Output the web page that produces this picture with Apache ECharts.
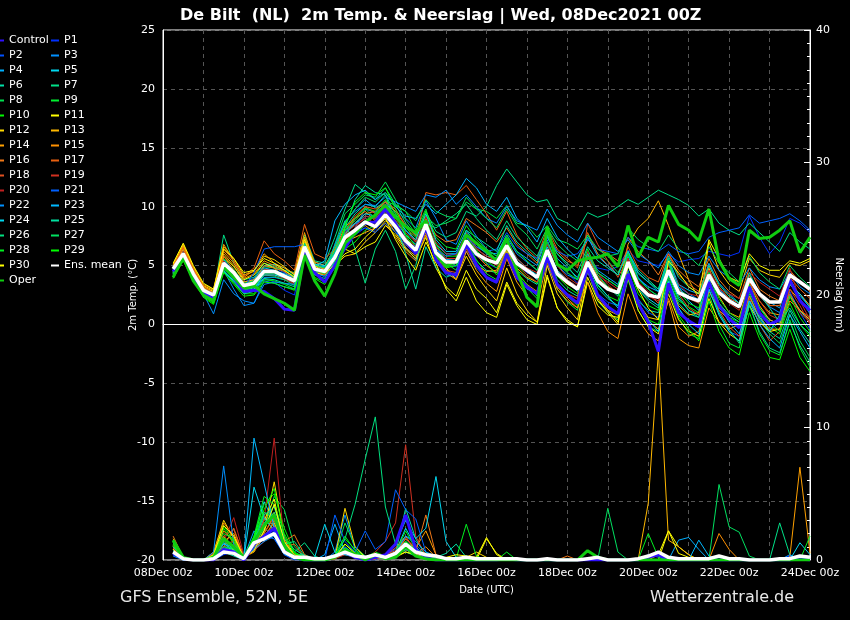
<!DOCTYPE html>
<html>
<head>
<meta charset="utf-8">
<script src="https://cdn.jsdelivr.net/npm/echarts/dist/echarts.min.js"></script>
<style>
html, body { margin: 0; padding: 0; background: #000; }
#chart { width: 850px; height: 620px; }
</style>
</head>
<body>
<div id="chart"></div>
<script>
// time axis: 6-hourly steps, 08Dec 00z .. 24Dec 00z
const days = ['08Dec', '09Dec', '10Dec', '11Dec', '12Dec', '13Dec', '14Dec', '15Dec', '16Dec',
  '17Dec', '18Dec', '19Dec', '20Dec', '21Dec', '22Dec', '23Dec', '24Dec'];
const hours = ['00z', '06z', '12z', '18z'];

const names = ['Control', 'P1', 'P2', 'P3', 'P4', 'P5', 'P6', 'P7', 'P8', 'P9', 'P10',
  'P11', 'P12', 'P13', 'P14', 'P15', 'P16', 'P17', 'P18', 'P19', 'P20',
  'P21', 'P22', 'P23', 'P24', 'P25', 'P26', 'P27', 'P28', 'P29', 'P30', 'Ens. mean', 'Oper'];
const colors = ['#3010ff', '#0030ff', '#0050ff', '#0090ff', '#00b0ff', '#00d8f0', '#00e0a8', '#00e088', '#00e050', '#00f030', '#00f800',
  '#ffff00', '#ffd800', '#ffb800', '#ffa000', '#ff9000', '#f07818', '#e86010', '#e05020', '#d03020', '#c02020',
  '#0060ff', '#0090ff', '#00b8ff', '#00d8f0', '#00e0a0', '#00e080', '#00e060', '#00f020', '#00ff00', '#ffff00', '#ffffff', '#10cc10'];

// 2m temperature (°C)
const tControl = [null, 4.5,5.9,4.2,2.7, 2.2,5.0,4.0,2.8, 2.9,2.8,2.2,1.3, 1.2,6.2,4.4,3.6, 5.0,6.5,7.8,8.6, 8.7,9.8,8.6,7.0, 6.0,8.2,5.5,4.4, 4.2,6.8,5.1,4.0, 3.6,6.0,4.0,3.2, 2.6,5.7,3.4,2.5, 1.8,4.8,2.5,1.5, 0.9,4.3,1.8,0.2, -2.3,3.5,1.0,0.3, -0.2,3.6,1.6,0.5, -0.3,3.2,1.0,0.0, 0.4,3.8,2.0,1.2];
const tP1 = [null, 4.9,6.2,4.5,3.0, 2.4,5.0,4.2,3.0, 3.2,3.9,3.6,2.9, 2.5,6.4,4.6,4.0, 5.4,7.0,7.6,8.2, 8.0,9.0,8.1,6.9, 6.2,8.1,6.0,5.0, 4.9,6.5,5.8,5.2, 4.8,6.0,5.1,4.4, 4.0,6.9,5.2,4.4, 3.5,5.6,4.8,4.6, 4.9,6.3,5.4,5.2, 5.0,6.0,5.3,5.5, 5.6,6.2,6.0,5.8, 6.1,9.2,7.4,6.0, 7.0,9.0,8.6,7.8];
const tP2 = [null, 4.6,5.8,4.2,2.8, 2.6,5.4,4.6,3.6, 3.9,5.0,4.8,4.4, 4.0,6.8,4.9,4.7, 6.0,7.9,8.5,9.0, 8.6,9.5,8.0,6.6, 5.5,8.0,5.4,4.2, 4.0,6.2,4.8,3.9, 3.5,5.8,4.0,3.0, 2.6,5.0,3.2,2.4, 1.8,4.4,2.6,1.9, 1.6,4.6,2.2,1.0, 0.6,3.9,1.4,0.2, -0.3,3.0,1.0,-0.6, -1.0,2.4,0.4,-0.5, 0.2,2.8,1.0,-0.4];
const tP3 = [null, 5.0,6.3,4.6,3.2, 2.0,4.6,3.0,1.6, 1.8,3.7,3.5,3.2, 3.0,6.0,4.3,4.1, 5.5,7.2,8.2,9.8, 9.5,10.2,9.6,9.0, 8.2,10.5,9.0,7.2, 6.8,8.8,7.5,6.4, 5.8,7.4,6.0,5.3, 4.6,7.2,5.0,4.2, 3.8,6.0,4.4,3.8, 3.2,6.2,4.0,3.0, 2.4,5.4,3.2,2.6, 2.1,4.6,3.0,2.2, 1.6,3.8,2.4,1.5, 1.0,3.5,2.2,0.9];
const tP4 = [null, 4.4,5.8,4.0,2.6, 2.3,4.8,3.9,2.8, 2.9,4.0,4.0,3.8, 3.6,6.9,5.0,4.9, 6.6,8.6,9.8,10.6, 9.9,10.4,9.2,8.0, 7.0,8.8,6.4,5.5, 5.6,7.8,6.6,6.1, 6.0,7.6,6.2,5.6, 5.0,7.5,5.6,4.8, 4.0,6.0,4.6,4.0, 3.4,5.8,3.9,3.2, 2.8,5.6,3.4,2.9, 2.6,5.2,3.5,2.6, 1.8,4.2,2.7,1.9, 1.4,3.9,2.4,1.5];
const tP5 = [null, 4.8,6.1,4.4,3.1, 2.7,5.5,4.5,3.4, 3.8,5.0,5.1,4.8, 4.2,7.0,5.3,5.0, 6.2,8.0,8.6,9.2, 9.0,9.8,8.8,7.6, 6.8,8.6,6.8,6.0, 6.0,7.6,6.4,5.8, 5.6,7.0,5.6,4.8, 4.2,6.4,4.6,3.8, 3.2,5.4,3.8,3.0, 2.6,5.0,3.0,2.2, 1.6,4.2,2.2,1.2, 0.8,3.6,1.8,0.8, 0.2,3.0,1.4,0.4, 0.0,2.6,1.2,0.2];
const tP6 = [null, 4.3,5.6,4.0,2.5, 2.1,4.9,4.1,3.2, 3.3,4.6,4.5,4.2, 3.9,6.5,4.5,4.4, 5.9,8.2,9.4,10.2, 10.0,11.0,9.4,7.4, 6.0,8.6,6.2,5.4, 5.0,6.8,5.4,4.6, 4.4,6.2,4.6,3.9, 3.4,5.8,3.8,2.9, 2.4,5.0,3.1,2.2, 1.6,4.4,2.0,1.2, 1.0,3.7,1.8,0.9, 0.6,3.3,1.4,0.5, 0.0,2.8,0.8,-0.6, -1.2,1.2,-0.4,-1.6];
const tP7 = [null, 4.6,6.0,4.4,3.0, 2.6,7.6,5.2,3.8, 4.0,5.2,4.9,4.6, 4.4,7.6,5.4,5.2, 7.4,9.8,11.9,11.2, 10.6,11.6,10.2,8.6, 7.6,9.6,7.9,7.4, 7.8,9.6,9.2,10.0, 11.8,13.2,12.1,11.0, 10.4,10.6,9.0,8.6, 8.0,9.5,9.1,9.4, 10.0,10.6,10.2,10.8, 11.4,11.0,10.6,10.1, 9.2,9.8,8.6,8.0, 7.6,8.6,7.8,7.0, 6.2,7.8,7.0,6.4];
const tP8 = [null, 4.2,5.7,4.1,2.6, 2.0,4.8,3.8,2.7, 3.0,4.2,4.1,3.8, 3.3,6.2,4.4,4.3, 6.8,9.4,10.2,11.0, 10.8,12.1,10.6,8.9, 7.7,9.2,8.4,8.6, 9.0,10.4,9.8,9.6, 9.0,10.1,8.6,8.4, 7.4,8.4,7.2,6.9, 6.4,7.6,6.0,5.4, 4.4,6.0,4.3,3.6, 3.0,5.6,3.0,2.4, 1.8,4.4,1.8,0.6, -0.2,2.6,0.4,-0.8, -1.6,0.9,-1.4,-2.8];
const tP9 = [null, 4.5,5.9,4.3,2.8, 2.4,5.6,4.7,3.5, 3.7,4.9,4.8,4.6, 4.1,7.0,5.0,4.8, 6.3,8.0,8.8,9.8, 9.0,10.5,10.1,9.6, 8.0,9.8,6.9,5.2, 4.6,7.0,5.5,4.3, 3.8,6.4,4.2,3.1, 2.2,5.8,3.0,1.9, 1.2,4.6,2.0,1.0, 0.4,3.8,1.2,-0.2, -0.6,3.0,0.6,-0.8, -1.2,2.6,0.0,-1.6, -2.0,1.8,-0.8,-2.2, -2.6,0.4,-2.0,-3.6];
const tP10 = [null, 4.0,5.5,3.8,2.4, 1.8,4.6,3.5,2.6, 2.6,3.8,3.7,3.4, 3.0,6.0,4.0,3.6, 4.8,6.4,7.0,8.0, 8.4,9.6,8.8,7.8, 6.6,8.9,6.6,5.8, 5.8,7.4,6.3,5.4, 4.8,6.6,5.0,4.2, 3.5,6.0,4.1,3.2, 2.6,5.4,3.3,2.4, 2.0,5.0,2.6,1.6, 1.2,4.0,2.0,1.5, 1.0,3.9,1.8,0.6, 0.2,3.0,1.0,-0.2, -0.8,1.8,0.0,-1.0];
const tP11 = [null, 4.9,6.5,4.6,3.2, 2.8,5.8,4.9,3.8, 4.2,5.2,4.8,4.0, 3.6,6.3,4.4,4.2, 5.2,6.4,6.0,6.6, 7.0,8.4,7.6,6.4, 5.6,7.4,4.8,3.2, 2.4,4.6,3.0,2.2, 1.0,3.6,1.8,0.8, 0.2,4.2,1.4,0.4, -0.2,3.6,1.6,0.8, 0.6,4.0,1.2,-0.2, -0.8,2.6,0.4,-0.6, -1.0,2.2,0.2,-0.8, -1.4,1.6,0.2,-0.6, -0.4,2.4,1.2,0.4];
const tP12 = [null, 5.1,6.7,4.8,3.3, 2.9,6.6,5.6,4.2, 4.5,5.8,5.5,4.9, 4.2,7.4,5.2,4.6, 5.0,5.8,6.0,7.0, 7.8,8.8,8.2,6.8, 6.0,8.0,6.2,4.8, 3.8,5.8,4.2,3.0, 2.0,4.8,2.6,1.2, 0.2,5.0,2.6,1.4, 0.4,4.6,2.2,1.0, 0.0,4.2,1.8,0.6, 0.4,3.4,1.6,0.8, 1.0,7.0,4.6,3.4, 2.8,5.6,4.6,4.2, 4.0,5.2,5.0,5.4];
const tP13 = [null, 4.7,6.4,4.5,3.1, 2.5,6.0,5.0,3.6, 3.8,4.6,4.5,4.2, 3.8,6.6,4.8,4.3, 5.6,7.0,7.4,7.8, 8.2,9.0,7.8,6.5, 5.8,7.8,5.6,4.5, 4.2,6.6,5.0,4.5, 4.6,6.4,4.8,4.0, 3.6,6.2,4.2,3.4, 3.0,5.8,4.0,3.2, 2.8,6.8,8.2,9.0, 10.5,8.4,6.0,3.8, 2.2,4.8,2.4,1.0, 0.6,3.6,1.6,0.4, 0.0,3.0,2.0,1.2];
const tP14 = [null, 5.0,6.8,4.9,3.4, 3.0,6.8,5.4,4.0, 4.6,6.0,5.2,4.8, 4.3,7.8,5.0,4.7, 5.8,7.2,7.8,8.4, 7.8,8.6,7.4,6.2, 5.4,7.6,5.6,4.4, 3.8,6.2,4.6,3.5, 2.8,5.6,3.6,2.4, 1.6,5.4,3.0,2.0, 1.4,4.8,2.4,1.2, 0.8,4.0,1.6,0.3, -0.4,2.0,-1.2,-1.8, -2.0,1.4,0.2,-0.4, 0.0,3.6,2.0,1.0, 0.8,3.4,2.6,1.6];
const tP15 = [null, 4.8,6.6,4.7,3.3, 2.7,6.2,5.2,3.9, 4.3,5.4,5.0,4.6, 4.0,7.2,5.3,5.0, 6.4,8.3,9.0,9.6, 8.8,9.4,8.2,7.0, 6.4,8.4,6.2,5.4, 5.4,7.0,5.9,5.0, 4.4,6.2,4.4,3.4, 2.8,5.4,3.2,2.2, 1.4,3.6,1.0,-0.6, -1.2,2.6,0.4,-0.8, -1.4,2.2,-0.2,-1.0, -0.6,2.8,1.2,0.4, -0.2,2.4,0.6,-0.4, -0.4,2.0,1.2,0.6];
const tP16 = [null, 4.5,6.2,4.3,2.9, 2.2,5.8,4.6,3.4, 3.6,5.0,4.8,4.5, 3.8,7.0,4.8,4.6, 5.8,7.6,8.6,9.4, 9.6,10.4,9.6,8.4, 7.5,9.0,7.6,7.0, 7.2,9.0,8.4,7.8, 7.0,8.2,6.8,6.0, 5.2,7.8,6.2,5.4, 5.0,7.2,6.4,6.0, 5.4,7.4,6.2,5.4, 4.2,6.0,4.6,3.8, 3.2,5.6,3.8,2.8, 2.2,4.8,3.0,2.4, 2.0,4.6,3.6,2.8];
const tP17 = [null, 4.9,6.5,4.7,3.2, 2.6,6.4,5.4,4.1, 4.8,7.1,6.0,5.4, 4.6,8.5,6.0,5.6, 6.4,8.0,9.2,10.0, 9.8,10.4,9.8,8.4, 7.0,11.2,11.0,11.2, 11.0,11.8,10.6,9.4, 8.0,9.6,7.6,6.4, 5.6,8.2,6.4,5.6, 4.8,7.8,6.0,5.0, 4.2,6.6,4.8,4.0, 3.6,6.0,4.2,3.4, 2.8,5.0,3.2,2.2, 1.8,4.2,2.4,1.6, 1.6,4.0,3.0,2.2];
const tP18 = [null, 4.6,6.1,4.4,3.0, 2.3,5.2,4.3,3.2, 3.4,4.4,4.4,4.0, 3.5,6.7,4.6,4.2, 5.4,7.6,9.0,10.0, 9.4,10.2,8.8,7.2, 6.2,8.2,5.8,4.6, 4.4,6.4,5.0,4.0, 3.6,5.6,4.0,3.2, 2.6,5.2,3.4,2.6, 2.2,8.6,6.8,5.4, 4.0,5.6,3.6,2.6, 1.8,4.4,2.6,1.4, 0.8,3.4,1.2,-0.2, -1.0,2.2,0.0,-1.4, -0.6,2.6,1.0,0.2];
const tP19 = [null, 4.4,6.0,4.2,2.8, 2.5,5.1,4.1,3.0, 3.2,4.2,4.2,3.9, 3.4,6.6,4.7,4.4, 5.6,7.8,8.4,9.0, 8.6,9.6,8.4,7.4, 6.6,8.8,6.6,5.6, 5.6,7.6,6.4,5.8, 5.4,7.2,5.6,4.8, 4.4,6.8,5.0,4.0, 3.4,5.8,4.2,3.6, 3.0,5.2,3.4,2.4, 2.0,4.6,3.0,2.2, 1.8,4.0,2.6,1.8, 1.2,3.6,2.0,0.8, 0.4,3.0,1.6,0.0];
const tP20 = [null, 4.8,6.2,4.5,3.0, 2.4,5.4,4.4,3.3, 3.5,4.7,4.6,4.1, 3.7,6.8,4.9,4.5, 5.7,7.4,8.2,9.2, 9.0,10.0,9.0,7.8, 7.0,9.2,7.0,6.0, 5.9,7.8,6.6,5.6, 5.0,6.8,5.2,4.2, 3.6,6.4,4.6,3.8, 3.2,6.2,4.4,3.4, 2.6,5.6,3.6,2.8, 2.2,5.0,3.4,2.6, 2.4,4.6,3.0,2.6, 2.2,4.4,3.6,3.0, 2.4,4.8,2.0,0.4];
const tP21 = [null, 4.7,6.0,4.4,3.0, 2.4,5.0,4.2,3.1, 4.4,6.4,6.6,6.6, 6.6,6.8,4.8,4.4, 5.2,6.8,7.8,8.2, 7.8,8.6,7.8,7.0, 6.6,8.4,6.4,5.8, 6.0,7.4,6.6,6.2, 6.4,7.8,6.6,6.0, 5.6,7.6,6.2,5.8, 6.0,7.2,6.4,6.2, 6.0,7.4,6.6,6.4, 6.2,6.8,6.2,6.0, 6.2,7.4,7.8,8.0, 8.2,9.3,8.6,8.8, 9.0,9.4,8.8,8.0];
const tP22 = [null, 4.3,5.7,4.0,2.6, 0.9,3.8,2.6,2.0, 1.8,3.4,3.6,3.5, 3.4,6.4,4.6,4.4, 6.8,8.8,9.6,10.2, 10.1,10.8,10.4,10.0, 9.6,11.0,10.8,11.4, 10.2,11.0,10.0,9.0, 8.6,10.0,8.8,8.4, 8.0,9.8,8.4,7.6, 7.0,8.6,7.4,6.8, 6.2,7.2,6.0,5.4, 4.8,6.2,5.0,4.4, 4.2,5.8,4.6,4.0, 3.4,4.8,3.8,3.2, 3.0,4.4,3.2,2.6];
const tP23 = [null, 4.6,6.1,4.3,2.9, 2.5,5.3,4.3,3.2, 3.6,4.8,4.6,4.3, 4.0,6.6,4.9,5.4, 8.8,10.2,11.0,11.4, 10.6,11.2,10.0,9.2, 9.0,10.2,9.4,10.2, 11.0,12.4,11.6,10.2, 9.6,10.8,9.0,8.2, 7.0,9.0,7.4,6.4, 5.6,7.4,5.8,5.0, 4.2,6.2,4.4,3.6, 2.8,5.2,3.2,2.0, 1.2,3.8,1.6,0.2, -0.8,2.0,0.0,-1.2, -2.0,0.8,-0.6,-2.0];
const tP24 = [null, 4.4,5.9,4.1,2.7, 2.0,4.6,3.7,2.7, 3.0,4.2,4.2,4.0, 3.7,6.8,5.1,5.0, 6.0,7.7,8.6,9.4, 9.2,10.0,9.2,8.0, 7.2,9.4,7.2,6.2, 6.2,8.0,6.8,6.0, 5.6,7.2,5.4,4.6, 3.8,6.6,4.6,3.6, 2.8,5.4,3.4,2.4, 1.4,4.2,1.8,0.4, -0.6,3.6,1.4,0.0, -0.8,3.0,0.8,-0.6, -1.4,2.0,0.6,-0.6, 0.8,3.4,2.6,1.4];
const tP25 = [null, 4.1,5.5,3.9,2.5, 1.9,4.5,3.6,2.6, 2.8,3.9,3.8,3.5, 3.2,6.3,4.2,3.9, 5.4,8.2,10.6,11.8, 11.2,11.0,8.6,6.0, 3.0,6.6,4.8,4.0, 4.4,8.0,7.4,6.8, 6.2,8.4,7.0,6.2, 5.4,7.4,6.0,5.2, 4.4,6.6,5.4,4.8, 4.2,6.2,4.6,3.8, 3.0,5.8,4.0,3.2, 2.6,5.0,3.4,2.4, 1.8,4.4,2.6,1.4, 0.2,1.4,0.0,-0.8];
const tP26 = [null, 4.2,5.6,4.0,2.6, 2.2,5.0,4.0,2.9, 3.1,4.3,4.3,4.0, 3.6,6.4,4.8,4.6, 6.2,8.8,6.4,3.5, 6.4,8.0,6.2,3.0, 5.0,8.6,8.2,8.8, 9.4,10.2,9.0,8.0, 7.2,8.8,7.4,6.6, 5.8,7.6,6.0,5.0, 3.8,6.0,4.2,3.2, 2.4,5.0,3.0,2.0, 1.4,4.6,2.4,1.2, 0.6,3.4,1.0,-0.4, -1.6,1.6,-0.6,-2.0, -2.4,0.2,-1.8,-3.2];
const tP27 = [null, 4.5,6.0,4.3,2.8, 2.3,5.2,4.2,3.1, 3.4,4.6,4.5,4.2, 3.8,6.9,5.0,4.8, 6.6,8.6,9.8,10.8, 10.4,11.2,10.2,9.6, 8.8,10.6,9.6,9.2, 9.0,10.8,9.8,9.0, 8.2,9.8,8.4,7.6, 6.4,8.2,6.8,6.0, 5.4,7.6,6.4,5.8, 6.0,8.2,7.2,6.6, 6.2,7.6,6.4,5.8, 5.0,6.6,5.2,4.4, 3.6,5.8,4.4,3.6, 3.0,5.0,4.0,3.2];
const tP28 = [null, 4.3,5.8,4.1,2.7, 2.1,5.0,4.0,2.9, 3.2,4.4,4.4,4.1, 3.6,6.5,4.6,4.3, 5.8,8.0,9.0,9.9, 9.6,10.6,9.4,8.2, 7.4,9.6,7.4,6.6, 6.4,8.4,7.2,6.4, 5.8,7.6,6.2,5.4, 4.6,7.0,5.2,4.4, 3.8,6.4,4.4,3.8, 3.2,6.0,3.8,3.0, 2.4,5.2,2.8,1.8, 1.4,4.4,2.2,1.0, 0.4,3.4,1.4,0.2, -0.6,2.4,0.6,-0.6];
const tP29 = [null, 3.9,5.4,3.7,2.3, 1.7,4.4,3.4,2.4, 2.5,3.6,3.5,3.2, 2.9,5.8,3.9,3.4, 5.0,8.4,10.4,11.2, 11.0,11.6,9.8,7.6, 6.2,8.2,5.8,4.8, 5.0,7.2,6.0,5.2, 4.2,6.0,4.4,3.4, 2.4,5.4,3.4,2.4, 1.6,4.6,2.4,1.4, 0.8,4.4,1.6,0.4, 0.0,3.4,0.8,-0.4, -1.4,2.0,-0.6,-2.0, -2.6,1.0,-1.2,-2.8, -3.0,-0.4,-2.8,-4.0];
const tP30 = [null, 5.2,6.9,5.0,3.5, 3.0,6.4,5.6,4.4, 4.6,5.6,5.2,4.6, 4.0,7.2,5.0,4.4, 5.0,6.0,6.4,7.4, 8.2,9.0,7.2,5.8, 4.6,7.0,5.2,3.0, 2.0,4.0,2.0,1.0, 0.6,3.4,1.6,0.4, 0.0,4.0,1.4,0.2, -0.2,4.0,2.0,1.2, 0.2,5.0,3.0,1.4, 0.4,5.4,4.4,3.2, 2.6,7.2,5.6,4.0, 3.6,6.0,5.0,4.6, 4.6,5.4,5.2,5.6];
const tMean = [null, 4.7,6.0,4.3,2.9, 2.5,5.2,4.4,3.3, 3.5,4.5,4.5,4.1, 3.7,6.6,4.7,4.5, 5.7,7.4,8.0,8.7, 8.3,9.3,8.3,7.1, 6.3,8.5,6.1,5.3, 5.3,7.1,6.0,5.5, 5.2,6.7,5.2,4.6, 4.0,6.3,4.3,3.6, 3.0,5.3,3.7,3.0, 2.7,5.3,3.3,2.5, 2.3,4.6,2.7,2.3, 2.0,4.2,2.7,2.0, 1.5,3.9,2.6,1.9, 1.9,4.2,3.6,3.0];
const tOper = [null, 4.0,5.7,3.7,2.5, 2.0,4.9,4.0,3.1, 3.3,2.6,2.2,1.8, 1.2,5.9,3.7,2.4, 4.3,6.9,7.7,8.7, 9.3,10.1,9.1,8.3, 7.8,8.8,6.0,4.9, 5.4,7.6,6.9,6.2, 5.4,7.3,4.6,2.3, 1.5,8.3,5.1,4.6, 5.4,5.6,5.7,6.0, 4.9,8.4,5.7,7.4, 7.0,10.1,8.5,8.0, 7.1,9.8,5.4,3.9, 3.3,8.0,7.3,7.4, 8.0,8.8,6.1,7.4];

// precipitation (mm per 6h)
const rControl = [null, 0.5,0.1,0,0, 0,0.8,0.6,0, 1.2,1.8,2.4,0.8, 0.2,0,0,0, 0.3,0.6,0.2,0, 0.2,0.4,1.2,3.4, 0.8,0.2,0,0, 0,0,0,0, 0,0.1,0,0, 0,0,0,0, 0,0,0,0, 0,0,0,0.2, 0.4,0,0,0, 0,0,0,0, 0,0,0,0, 0,0,0.1,0];
const rP1 = [null, 0.4,0,0,0, 0,0.4,0.6,0, 0.8,1.6,2.2,0.6, 0.1,0,0,0, 0.4,0.8,0.2,0, 0.1,0.3,0.6,1.4, 0.6,0.2,0,0, 0,0,0,0, 0,0,0,0, 0,0,0,0, 0,0,0,0, 0,0,0,0.4, 0.2,0,0,0, 0,0,0,0, 0,0,0,0, 0,0.3,0,0];
const rP2 = [null, 0.6,0.1,0,0, 0.2,0.9,0.4,0, 1.0,2.0,1.6,0.4, 0,0,0,0, 0.2,0.5,0.2,0, 0,0.4,0.8,1.8, 1.2,0.3,0,0, 0,0,0,0, 0,0,0,0, 0,0,0,0, 0,0,0,0, 0,0,0,0, 0,0,0.2,0, 0,0,0,0, 0,0,0,0, 0,0,0,0];
const rP3 = [null, 0.3,0,0,0, 0.5,1.6,0.8,0, 1.4,2.4,1.8,0.6, 0.2,0,0,0, 0.6,3.4,0.8,0.2, 0.3,0.2,0.4,1.0, 0.4,0.2,0.1,0, 0,0.1,0,0, 0,0,0,0, 0,0,0,0, 0,0,0.2,0, 0,0,0,0, 0,0,0,0, 0,0,0,0, 0,0,0,0, 0,0,0,0];
const rP4 = [null, 0.5,0,0,0, 0.3,1.2,0.8,0.2, 2.2,1.4,2.6,0.8, 0.3,0.1,0,0.4, 2.7,0.6,0.3,0, 0.2,0.3,0.6,1.6, 0.8,0.4,0.1,0, 0,0,0,0, 0,0,0,0, 0,0,0,0, 0,0,0,0, 0,0,0,0, 0,0,1.5,1.7, 0.8,0,0,0, 0,0,0,0, 0,0,0,0];
const rP5 = [null, 0.8,0.1,0,0, 0.1,0.7,0.5,0.1, 1.6,4.4,2.8,0.9, 0.4,0.2,0,0, 0.2,0.4,0.2,0, 0.1,0.2,0.6,2.4, 1.0,0.2,0,0, 0,0,0,0, 0,0,0,0, 0,0,0,0, 0,0,0,0, 0,0,0,0, 0,0,0,0, 0,0,0,0, 0,0,0,0, 0,0,1.3,0.4];
const rP6 = [null, 1.0,0.2,0,0, 0.2,0.6,0.3,0, 1.2,3.2,2.6,1.0, 0.4,0.4,0.1,0, 0.1,0.6,0.2,0.1, 0.4,0.3,0.5,3.9, 1.6,0.3,0.1,0, 0,0,0,0, 0,0,0,0, 0,0,0,0, 0,0,0,0, 0,0,0,0, 0,0,0,0, 0,0,0,0, 0,0,0,0, 0,0,0,0];
const rP7 = [null, 1.4,0.2,0,0, 0,0.5,0.6,0.1, 0.9,2.2,4.2,1.2, 0.6,1.3,0.3,0, 0.4,0.8,0.3,0.1, 0.3,0.1,0.3,0.8, 0.5,0.4,0.2,0.1, 0.1,0.3,0,0, 0,0,0,0, 0,0,0,0, 0,0,0,0, 0,0,0,0, 0,0,0,0, 0,0,0,0, 0,0,0,0, 2.8,0.4,0,0];
const rP8 = [null, 0.7,0,0,0, 0.4,1.0,0.8,0, 1.0,2.4,4.8,3.8, 1.0,0.2,0,0, 0.3,2.8,1.0,0.3, 0.2,0.3,0.4,1.2, 0.6,0.3,0.1,0, 0,0,0,0, 0,0,0,0, 0,0,0,0, 0,0,0,0, 0,0,0,0, 0,0,0,0, 0,0,0,0, 0,0,0,0, 0,0,0,0];
const rP9 = [null, 0.9,0.1,0,0, 0.2,0.8,0.9,0.2, 1.6,3.6,3.0,1.4, 0.4,0.2,0,0, 0.2,1.2,0.6,0.1, 0.3,0.1,0.4,0.9, 0.7,0.4,0.2,0, 0,0,0,0, 0,0,0,0, 0,0,0,0, 0,0,0,0, 0,0,0,0, 0,0,0,0, 0,0,0,0, 0,0,0,0, 0,0,0,0];
const rP10 = [null, 1.2,0.2,0,0, 0.1,2.4,1.2,0.1, 1.8,4.2,5.0,2.4, 0.6,0.2,0,0, 0.3,1.6,0.8,0.2, 0.6,0.3,0.3,1.4, 0.8,0.5,0.2,0, 0,0,0,0, 0,0,0,0, 0,0,0,0, 0,0,0,0, 0,0,0,0, 0,0,0,0, 0,0,0,0, 0,0,0,0, 0,0,0,0];
const rP11 = [null, 0.9,0.1,0,0, 0.3,1.8,0.7,0, 1.0,3.0,4.6,1.0, 0.2,0,0,0, 0.2,0.9,0.4,0, 0.1,0.2,0.3,0.6, 0.4,0.2,0,0, 0,0,0,1.6, 0.5,0,0,0, 0,0,0,0, 0,0,0,0, 0,0,0,0, 0,2.2,1.0,0.4, 0,0,0,0, 0,0,0,0, 0,0,0,0];
const rP12 = [null, 0.8,0,0,0, 0.6,3.0,1.6,0.2, 0.8,2.2,5.9,1.6, 0.4,0.1,0,0, 0.2,3.9,1.0,0.2, 0.2,0.1,0.3,0.8, 0.3,0.2,0.1,0, 0.1,0.2,0.6,0.2, 0,0,0,0, 0,0,0,0, 0,0,0,0, 0,0,0,0, 0,0,0,0, 0,0,0,0, 0,0,0,0, 0,0,0,0];
const rP13 = [null, 1.0,0.1,0,0, 0.4,1.4,2.0,0.2, 0.6,1.8,2.8,1.2, 0.2,0,0,0, 0.1,0.6,0.2,0, 0.2,0.1,0.4,0.9, 0.6,0.3,0,0, 0,0,0,0, 0,0,0,0, 0,0,0,0, 0,0,0,0, 0,0,0,4.3, 15.7,1.5,1.0,0.4, 0,0,0,0, 0,0,0,0, 0,0,0,0];
const rP14 = [null, 1.6,0.2,0,0, 0.4,2.2,1.4,0.1, 0.9,2.6,3.6,1.4, 0.3,0,0,0, 0.2,0.8,0.4,0, 0.2,0.2,0.5,1.6, 0.9,2.2,0.4,0, 0,0,0,0, 0,0,0,0, 0,0,0,0, 0,0,0,0, 0,0,0,0, 0,0,0,0, 0,0,0,0, 0,0,0,0, 0,0.2,7.0,0.5];
const rP15 = [null, 1.3,0.1,0,0, 0.5,2.8,1.8,0.2, 1.2,2.0,3.4,1.2, 0.4,0.2,0,0, 0.1,0.5,0.2,0, 0.1,0.3,0.6,1.2, 0.5,1.0,0.2,0, 0,0,0,0, 0,0,0,0, 0,0,0,0, 0,0,0,0, 0,0,0,0, 0,0,0,0, 0,0,2.0,0.8, 0,0,0,0, 0,0,0,0];
const rP16 = [null, 1.8,0.2,0,0, 0.3,1.0,2.4,0.3, 1.0,1.6,3.0,1.4, 1.9,0.4,0,0, 0.2,0.7,0.3,0, 0.4,0.4,0.9,1.8, 0.6,3.4,0.4,0, 0,0,0,0, 0,0,0,0, 0,0,0,0.3, 0,0,0,0, 0,0,0,0, 0,0,0,0, 0,0,0,0, 0,0,0,0, 0,0,0,0];
const rP17 = [null, 1.1,0.1,0,0, 0.2,1.2,1.4,0.1, 0.8,2.0,3.2,1.0, 1.2,0.2,0,0, 0.3,0.6,0.2,0, 0.1,0.2,0.3,0.9, 0.4,0.2,0,0, 0,0,0,0, 0,0,0,0, 0,0,0,0, 0,0,0,0, 0,0,0,0, 0,0,0,0, 0,0,0,0, 0,0,0,0, 0,0,0,0];
const rP18 = [null, 1.5,0.2,0,0, 0.4,1.8,2.3,0.2, 0.9,1.8,2.6,0.8, 0.2,0,0,0, 0.2,0.5,0.3,0, 0.2,0.4,0.7,1.6, 0.9,0.3,0,0, 0,0,0,0, 0,0,0,0, 0,0,0,0, 0,0,0,0, 0,0,0,0, 0,0,0,0, 0,0,0,0, 0,0,0,0, 0,0,0,0];
const rP19 = [null, 0.9,0.1,0,0, 0.3,1.0,1.2,0.1, 0.7,1.4,2.0,0.6, 0.2,0,0,0, 0.1,0.4,0.3,0, 0.6,1.4,2.8,8.7, 1.8,0.3,0,0, 0,0,0,0, 0,0,0,0, 0,0,0,0, 0,0,0,0, 0,0,0,0, 0,0,0,0, 0,0,0,0, 0,0,0,0, 0,0,0,0];
const rP20 = [null, 1.2,0.1,0,0, 0.5,1.4,3.2,0.4, 1.2,3.0,9.2,1.2, 0.3,0,0,0, 0.2,0.5,0.2,0, 0.1,0.3,0.4,1.0, 0.5,0.2,0,0, 0,0,0,0, 0,0,0,0, 0,0,0,0, 0,0,0,0, 0,0,0,0, 0,0,0,0, 0,0,0,0, 0,0,0,0, 0,0,0,0];
const rP21 = [null, 0.6,0,0,0, 0.2,0.8,0.6,0, 0.9,1.8,1.6,0.5, 0.2,0.1,0,0, 3.4,1.4,0.6,2.2, 0.8,1.4,5.3,3.8, 3.1,0.6,0.2,0, 0,0.1,0,0, 0,0,0,0, 0,0,0,0, 0,0,0,0, 0,0,0,0, 0,0,0,0, 0,0,0,0, 0,0,0,0, 0,0,0,0];
const rP22 = [null, 0.4,0,0,0, 0.6,7.1,1.2,0.2, 0.8,1.4,1.8,0.4, 0.2,0,0,0, 0.2,0.5,0.2,0, 0.2,0.1,0.4,0.8, 0.4,0.2,0,0, 0,0,0,0, 0,0,0,0, 0,0,0,0, 0,0,0,0, 0,0,0,0, 0,0,0,0, 0,0,0,0, 0,0,0,0, 0,0.4,0,0];
const rP23 = [null, 0.7,0.1,0,0, 0.2,1.2,1.0,0.3, 9.2,5.8,2.4,0.8, 0.3,0.1,0,0, 0.4,1.0,0.4,0.2, 0.3,0.2,0.6,1.8, 1.4,0.6,0.3,0, 0,0,0,0, 0,0,0,0, 0,0,0,0, 0,0,0,0, 0,0,0,0, 0,0,0,0, 1.5,0.3,0,0, 0,0,0,0, 0,0,0,0];
const rP24 = [null, 0.5,0,0,0, 0.3,1.3,0.6,0.1, 5.5,3.2,2.2,0.7, 0.2,0.1,0.2,2.7, 0.6,0.4,0.3,0, 0.2,0.3,1.2,3.0, 1.6,2.4,6.3,1.4, 0.2,0,0,0, 0,0,0,0, 0,0,0,0, 0,0,0,0, 0,0,0,0, 0,0,0,0, 0,0,0,0, 0,0,0,0, 0,0,0,0];
const rP25 = [null, 1.0,0.1,0,0, 0.2,0.9,0.7,0.1, 1.4,3.4,4.0,1.6, 0.8,0.3,0.1,0, 0.3,0.7,0.3,0.1, 0.3,0.2,0.5,1.0, 0.6,0.3,0.2,0.5, 1.2,0.2,0,0, 0,0,0,0, 0,0,0,0, 0,0,0,0, 0,0,0,0, 0,0,0,0, 0,0,0,0, 0,0,0,0, 0,0,0,0];
const rP26 = [null, 1.3,0.2,0,0, 0.3,1.4,0.8,0.1, 1.0,2.8,3.6,1.2, 1.4,0.3,0,0, 0.2,1.6,4.2,7.6, 10.8,4.0,1.2,0.6, 0.3,0.2,0,0, 0,0,0,0, 0,0,0,0, 0,0,0,0, 0,0,0,0, 0,0,0,0, 0,0,0,0, 0,0,0,0, 0,0,0,0, 0,0,0,0];
const rP27 = [null, 1.4,0.1,0,0, 0.2,1.0,0.9,0.2, 1.2,3.6,3.2,1.2, 0.3,0.1,0,0, 0.2,0.6,0.3,0, 0.3,0.2,0.6,1.2, 0.9,0.4,0.2,0, 0,0,0,0, 0,0,0,0, 0,0,0,0, 0,0,0,3.9, 0.6,0,0,0, 0,0,0,0, 0,0,5.7,2.5, 2.1,0.3,0,0, 0,0,0,0];
const rP28 = [null, 1.1,0.1,0,0, 0.4,2.0,1.6,0.2, 1.8,4.8,4.2,2.0, 0.5,0.2,0,0, 0.4,1.8,0.7,0.1, 0.4,0.3,0.5,2.2, 0.8,0.4,0.1,0, 0.1,2.7,0.3,0, 0,0.6,0,0, 0,0,0,0, 0,0,0,0, 0,0,0,2.0, 0.2,0,0,0, 0,0,0,0, 0,0,0,0, 0,0,0,1.8];
const rP29 = [null, 1.2,0.2,0,0, 0.3,2.6,1.4,0.1, 1.6,3.8,5.4,1.8, 0.5,0.2,0,0, 0.3,1.2,0.5,0.1, 0.3,0.2,0.4,1.4, 0.7,0.3,0.1,0, 0,0,0,0, 0,0,0,0, 0,0,0,0, 0,0,0,0, 0,0,0,0, 0,0,0,0, 0,0,0,0, 0,0,0,0, 0,0,0,0];
const rP30 = [null, 0.8,0.1,0,0, 0.4,2.6,1.8,0.2, 0.7,2.2,4.2,1.4, 0.3,0.1,0,0, 0.2,1.2,0.5,0, 0.2,0.3,0.2,0.6, 0.4,0.2,0.1,0.2, 0.4,0.3,0.2,1.7, 0.4,0,0,0, 0,0,0,0, 0,0,0,0, 0,0,0,0, 0.4,2.2,0.5,0.2, 0,0,0,0, 0,0,0,0, 0,0,0,0];
const rMean = [null, 0.6,0.1,0,0, 0.1,0.6,0.5,0.1, 1.3,1.6,2.0,0.6, 0.2,0.2,0.1,0.1, 0.3,0.6,0.3,0.2, 0.4,0.2,0.5,1.2, 0.6,0.4,0.3,0.1, 0.1,0.2,0.1,0.1, 0.1,0.1,0.1,0, 0,0.1,0,0, 0,0.1,0.2,0, 0,0,0.1,0.3, 0.6,0.2,0.1,0.1, 0.1,0.1,0.3,0.1, 0.1,0,0,0, 0.1,0.1,0.3,0.2];
const rOper = [null, 1.5,0.2,0,0, 0.2,1.6,1.0,0.2, 1.4,2.6,3.4,1.0, 0.2,0,0,0, 0.2,0.8,0.4,0, 0.4,0.1,0.2,1.0, 0.3,0.1,0,0, 0,0,0,0, 0,0,0,0, 0,0,0,0, 0,0.7,0.2,0, 0,0,0,0, 0,0,0,0, 0,0,0,0, 0,0,0,0, 0,0,0,0];

const tempData = [tControl, tP1, tP2, tP3, tP4, tP5, tP6, tP7, tP8, tP9, tP10,
  tP11, tP12, tP13, tP14, tP15, tP16, tP17, tP18, tP19, tP20,
  tP21, tP22, tP23, tP24, tP25, tP26, tP27, tP28, tP29, tP30, tMean, tOper];
const rainData = [rControl, rP1, rP2, rP3, rP4, rP5, rP6, rP7, rP8, rP9, rP10,
  rP11, rP12, rP13, rP14, rP15, rP16, rP17, rP18, rP19, rP20,
  rP21, rP22, rP23, rP24, rP25, rP26, rP27, rP28, rP29, rP30, rMean, rOper];

const categories = [];
days.forEach(d => hours.forEach(h => categories.push(d + ' ' + h)));
categories.length = 65;

const chart = echarts.init(document.getElementById('chart'));

function widthOf(name) {
  if (name === 'Ens. mean') return 3.5;
  if (name === 'Control' || name === 'Oper') return 3;
  return 1;
}

// members first, then control, oper and mean on top
const drawOrder = [];
for (let k = 1; k <= 30; k++) drawOrder.push(k);
drawOrder.push(0, 32, 31);

const series = [];
drawOrder.forEach(k => {
  const name = names[k];
  const color = colors[k];
  const w = widthOf(name);
  series.push({
    name: name, type: 'line', yAxisIndex: 1, data: rainData[k],
    symbol: 'none', silent: true, animation: false,
    itemStyle: { color: color }, lineStyle: { color: color, width: w }
  });
  const s = {
    name: name, type: 'line', yAxisIndex: 0, data: tempData[k],
    symbol: 'none', silent: true, animation: false,
    itemStyle: { color: color }, lineStyle: { color: color, width: w }
  };
  if (name === 'Ens. mean') {
    s.markLine = {
      silent: true, symbol: 'none', label: { show: false },
      lineStyle: { color: '#ffffff', width: 1, type: 'solid' },
      data: [{ yAxis: 0 }]
    };
  }
  series.push(s);
});

const leftCol = names.filter((n, i) => i % 2 === 0 && i <= 30).concat(['Oper']);
const rightCol = names.filter((n, i) => i % 2 === 1 && i <= 29).concat(['Ens. mean']);

const legendBase = {
  orient: 'vertical', top: 33, itemWidth: 8, itemHeight: 2, itemGap: 0,
  icon: 'rect', selectedMode: false, padding: 0,
  textStyle: { color: '#ffffff', fontSize: 11, lineHeight: 15 }
};

chart.setOption({
  backgroundColor: '#000000',
  animation: false,
  textStyle: { fontFamily: 'DejaVu Sans' },
  title: {
    text: 'De Bilt  (NL)  2m Temp. & Neerslag | Wed, 08Dec2021 00Z',
    left: 175, top: 3,
    textStyle: { color: '#ffffff', fontSize: 16, fontWeight: 'bold', fontFamily: 'DejaVu Sans' }
  },
  legend: [
    Object.assign({}, legendBase, { left: -4, data: leftCol }),
    Object.assign({}, legendBase, { left: 51, data: rightCol })
  ],
  grid: {
    left: 163, right: 40, top: 30, bottom: 60, outerBoundsMode: 'none', containLabel: false,
    show: true, borderColor: '#ffffff', borderWidth: 1
  },
  xAxis: {
    type: 'category', data: categories, boundaryGap: false,
    name: 'Date (UTC)', nameLocation: 'middle', nameGap: 25, nameMoveOverlap: false,
    nameTextStyle: { color: '#ffffff', fontSize: 10 },
    axisLine: { lineStyle: { color: '#ffffff' } },
    axisTick: { show: false },
    axisLabel: { interval: 7, color: '#ffffff', fontSize: 11, margin: 8 },
    splitLine: { show: true, interval: 3, lineStyle: { color: '#555555', type: [4, 4] } }
  },
  yAxis: [
    {
      type: 'value', min: -20, max: 25, interval: 5, position: 'left',
      name: '2m Temp. (°C)', nameLocation: 'middle', nameGap: 25, nameRotate: 90, nameMoveOverlap: false,
      nameTextStyle: { color: '#ffffff', fontSize: 10 },
      axisLine: { show: true, lineStyle: { color: '#ffffff' } },
      axisTick: { show: false },
      axisLabel: { color: '#ffffff', fontSize: 11, margin: 8 },
      splitLine: { show: true, lineStyle: { color: '#555555', type: [4, 4] } }
    },
    {
      type: 'value', min: 0, max: 40, interval: 10, position: 'right',
      name: 'Neerslag (mm)', nameLocation: 'middle', nameGap: 24, nameRotate: -90, nameMoveOverlap: false,
      nameTextStyle: { color: '#ffffff', fontSize: 10 },
      axisLine: { show: true, lineStyle: { color: '#ffffff' } },
      axisTick: { show: true, inside: true, length: 6, lineStyle: { color: '#ffffff' } },
      minorTick: { show: true, splitNumber: 10, length: 3, lineStyle: { color: '#ffffff' } },
      axisLabel: { color: '#ffffff', fontSize: 11, margin: 6 },
      splitLine: { show: false }
    }
  ],
  graphic: [
    { type: 'text', left: 120, top: 590, style: { text: 'GFS Ensemble, 52N, 5E', fill: '#e8e8e8', font: '16px "DejaVu Sans"' } },
    { type: 'text', left: 650, top: 590, style: { text: 'Wetterzentrale.de', fill: '#e8e8e8', font: '16px "DejaVu Sans"' } }
  ],
  series: series
});
</script>
</body>
</html>
